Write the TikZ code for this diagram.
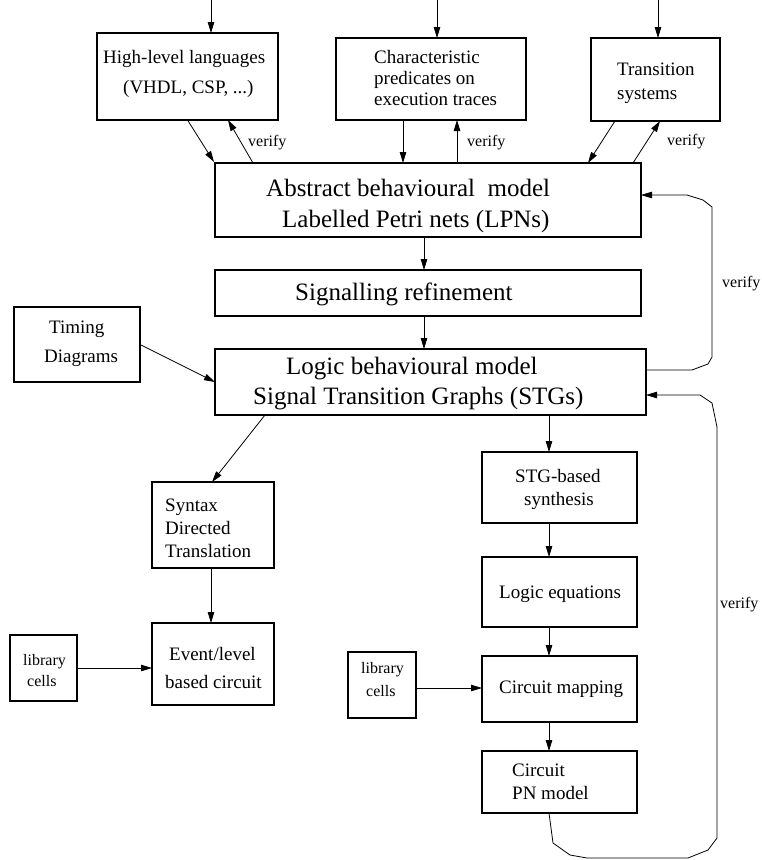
\documentclass[tikz,border=0pt]{standalone}
\usepackage{fontspec}
\setmainfont{Liberation Serif}
\usetikzlibrary{arrows.meta}

\tikzset{
  box/.style={draw, line width=1.3pt, inner sep=0pt, outer sep=0pt},
  conn/.style={line width=0.8pt},
  arr/.style={conn, -{Triangle[length=11pt,width=6.5pt]}},
  txt/.style={anchor=base west, inner sep=0pt, font=\fontsize{19}{22}\selectfont},
  big/.style={anchor=base west, inner sep=0pt, font=\fontsize{25}{29}\selectfont},
  lbl/.style={anchor=base west, inner sep=0pt, font=\fontsize{16}{19}\selectfont},
}

\begin{document}
\begin{tikzpicture}[x=1pt, y=-1pt]
\useasboundingbox (0,0) rectangle (761,860);

% ---------- boxes ----------
\node[box, minimum width=181pt, minimum height=87pt] (hll) at (187.5,76.5) {};
\node[box, minimum width=190pt, minimum height=82pt] (chr) at (431,79) {};
\node[box, minimum width=129pt, minimum height=83pt] (trs) at (655.5,79.5) {};
\node[box, minimum width=426pt, minimum height=74pt] (abs) at (428,200) {};
\node[box, minimum width=426pt, minimum height=46pt] (sig) at (428,293) {};
\node[box, minimum width=431pt, minimum height=66pt] (lgc) at (430.5,382) {};
\node[box, minimum width=126pt, minimum height=75pt] (tim) at (77,344.5) {};
\node[box, minimum width=122pt, minimum height=86pt] (syn) at (213,525) {};
\node[box, minimum width=122pt, minimum height=82pt] (evt) at (213,664) {};
\node[box, minimum width=67pt,  minimum height=66pt] (libA) at (43.5,668) {};
\node[box, minimum width=155pt, minimum height=71pt] (stg) at (559.5,487.5) {};
\node[box, minimum width=155pt, minimum height=70pt] (leq) at (559.5,592) {};
\node[box, minimum width=155pt, minimum height=66pt] (cmp) at (559.5,689) {};
\node[box, minimum width=68pt,  minimum height=66pt] (libB) at (382,685) {};
\node[box, minimum width=155pt, minimum height=62pt] (cpn) at (559.5,782) {};

% ---------- texts ----------
\node[txt] (hllA) at (103,63) {High-level languages};
\node[txt] (hllB) at (123,93) {(VHDL, CSP, ...)};
\node[txt] (chrA) at (374,63) {Characteristic};
\node[txt] (chrB) at (374,84) {predicates on};
\node[txt] (chrC) at (374,105) {execution traces};
\node[txt] (trsA) at (617,75) {Transition};
\node[txt] (trsB) at (617,99) {systems};
\node[big] (absA) at (266,196) {Abstract behavioural\ \ model};
\node[big] (absB) at (282,227) {Labelled Petri nets (LPNs)};
\node[big] (sigA) at (295,300) {Signalling refinement};
\node[big] (lgcA) at (286,374) {Logic behavioural model};
\node[big] (lgcB) at (253,404) {Signal Transition Graphs (STGs)};
\node[txt] (timA) at (49,333) {Timing};
\node[txt] (timB) at (44,362) {Diagrams};
\node[txt] (synA) at (165,511) {Syntax};
\node[txt] (synB) at (165,534) {Directed};
\node[txt] (synC) at (165,557) {Translation};
\node[txt] (evtA) at (169,660) {Event/level};
\node[txt] (evtB) at (165,688) {based circuit};
\node[lbl] (libAa) at (23,665) {library};
\node[lbl] (libAb) at (27,686) {cells};
\node[txt] (stgA) at (515,482) {STG-based};
\node[txt] (stgB) at (524,505) {synthesis};
\node[txt] (leqA) at (499,598) {Logic equations};
\node[lbl] (libBa) at (361,673) {library};
\node[lbl] (libBb) at (366,696) {cells};
\node[txt] (cmpA) at (499,693) {Circuit mapping};
\node[txt] (cpnA) at (512,776) {Circuit};
\node[txt] (cpnB) at (512,799) {PN model};

\node[lbl] (v1) at (248,146) {verify};
\node[lbl] (v2) at (467,146) {verify};
\node[lbl] (v3) at (667,145) {verify};
\node[lbl] (v4) at (722,287) {verify};
\node[lbl] (v5) at (720,608) {verify};

% ---------- inputs from above ----------
\coordinate (inA) at (211,0);
\coordinate (inB) at (437,0);
\coordinate (inC) at (658,0);
\draw[arr] (inA) -- (inA |- hll.north);
\draw[arr] (inB) -- (inB |- chr.north);
\draw[arr] (inC) -- (inC |- trs.north);

% ---------- specifications <-> abstract model ----------
\draw[arr] (hll.south) -- ([xshift=-1pt,yshift=1pt]abs.north west);
\draw[arr] ([xshift=38pt]abs.north west) -- ([xshift=40.5pt]hll.south);
\draw[arr] ([xshift=-28pt]chr.south) -- ([xshift=-28pt]chr.south |- abs.north);
\draw[arr] ([xshift=26pt]chr.south |- abs.north) -- ([xshift=26pt]chr.south);
\draw[arr] ([xshift=-40.5pt]trs.south) -- ([xshift=373pt]abs.north west);
\draw[arr] ([xshift=-8pt]abs.north east) -- ([xshift=4.5pt]trs.south);

% ---------- refinement chain ----------
\draw[arr] ([xshift=-4pt]abs.south) -- ([xshift=-4pt]sig.north);
\draw[arr] ([xshift=-4pt]sig.south) -- ([xshift=-6.5pt]lgc.north);
\draw[arr] (tim.east) -- (lgc.west);

% verification loop: logic model -> abstract model
\draw[arr] ([yshift=12pt]lgc.east) -- (692,370) -- (708,364) -- (712,357)
  -- (712,207) -- (703,200) -- (687,195) -- ([yshift=5pt]abs.east);

% ---------- syntax directed branch ----------
\draw[arr] ([xshift=50pt]lgc.south west) -- ([xshift=-1pt]syn.north);
\draw[arr] ([xshift=-2pt]syn.south) -- ([xshift=-2pt]evt.north);
\draw[arr] (libA.east) -- (libA.east -| evt.west);

% ---------- STG-based synthesis branch ----------
\coordinate (col) at ([xshift=-10.5pt]stg.north);
\draw[arr] (col |- lgc.south) -- (col);
\draw[arr] (col |- stg.south) -- (col |- leq.north);
\draw[arr] (col |- leq.south) -- (col |- cmp.north);
\draw[arr] (col |- cmp.south) -- (col |- cpn.north);
\draw[arr] ([yshift=-3pt]libB.east) -- ([yshift=-3pt]libB.east -| cmp.west);

% verification loop: circuit PN model -> logic model
\draw[arr] (col |- cpn.south) -- (553,843) -- (570,855) -- (587,858)
  -- (688,858) -- (708,850) -- (717,838) -- (717,427) -- (712,403)
  -- (700,395) -- ([yshift=-13pt]lgc.east);
\end{tikzpicture}
\end{document}
